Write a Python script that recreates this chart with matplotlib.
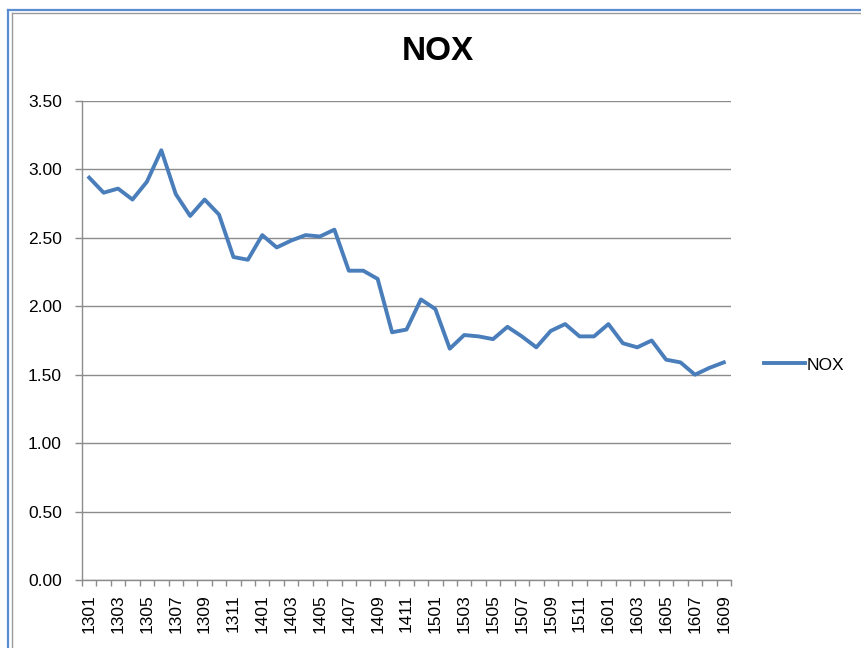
import matplotlib
matplotlib.use("Agg")
import matplotlib.pyplot as plt
from matplotlib.lines import Line2D
from matplotlib.ticker import FixedLocator, NullFormatter

months = [f"{y}{m:02d}" for y in (13, 14, 15) for m in range(1, 13)] + [f"16{m:02d}" for m in range(1, 10)]

nox = [
    2.94, 2.83, 2.86, 2.78, 2.91, 3.14, 2.82, 2.66, 2.78, 2.67, 2.36, 2.34,
    2.52, 2.43, 2.48, 2.52, 2.51, 2.56, 2.26, 2.26, 2.20, 1.81, 1.83, 2.05,
    1.98, 1.69, 1.79, 1.78, 1.76, 1.85, 1.78, 1.70, 1.82, 1.87, 1.78, 1.78,
    1.87, 1.73, 1.70, 1.75, 1.61, 1.59, 1.50, 1.55, 1.59,
]
y_ticks = [0.0, 0.5, 1.0, 1.5, 2.0, 2.5, 3.0, 3.5]

W, H = 862, 648
plt.rcParams["font.family"] = ["Liberation Sans", "DejaVu Sans"]

fig = plt.figure(figsize=(W / 100, H / 100), dpi=100)
ax = fig.add_axes([82 / W, 1 - 580 / H, (731 - 82) / W, (580 - 101) / H])

x = list(range(len(months)))
ax.plot(x, nox, color="#4a7ebb", linewidth=2.8, solid_joinstyle="round", label="NOX", zorder=3)

ax.set_xlim(-0.5, len(months) - 0.5)
ax.set_ylim(0, 3.5)
ax.set_yticks(y_ticks)
ax.set_yticklabels([f"{v:.2f}" for v in y_ticks], fontsize=12.5)
ax.grid(axis="y", color="#8c8c8c", linewidth=1.0)
ax.set_axisbelow(True)

ax.set_xticks(x[::2])
ax.set_xticklabels(months[::2], rotation=90, fontsize=12.5)
ax.xaxis.set_minor_locator(FixedLocator([i - 0.5 for i in range(len(months) + 1)]))
ax.xaxis.set_minor_formatter(NullFormatter())
ax.tick_params(axis="x", which="major", length=0, pad=10.5)
ax.tick_params(axis="x", which="minor", length=4.3, color="#8c8c8c", width=1.0)
ax.tick_params(axis="y", length=5, color="#8c8c8c", width=1.0, pad=9.5)

for side in ("top", "right"):
    ax.spines[side].set_visible(False)
for side in ("left", "bottom"):
    ax.spines[side].set_color("#8c8c8c")
    ax.spines[side].set_linewidth(1.0)

fig.text(438 / W, 1 - 52 / H, "NOX", ha="center", va="center", fontsize=24, fontweight="bold")

ax.legend(loc="center left", bbox_to_anchor=(755 / W, 1 - 365 / H), bbox_transform=fig.transFigure,
          frameon=False, fontsize=12.5, handlelength=2.4, handletextpad=0.1, borderpad=0)

# chart frame
fig.add_artist(Line2D([8.5 / W, 8.5 / W], [0, 1 - 9.5 / H], color="#5b8bd0", linewidth=1.6, transform=fig.transFigure))
fig.add_artist(Line2D([8.5 / W, 1], [1 - 9.5 / H, 1 - 9.5 / H], color="#5b8bd0", linewidth=1.6, transform=fig.transFigure))
fig.add_artist(Line2D([12.5 / W, 12.5 / W], [0, 1 - 13 / H], color="#9a9a9a", linewidth=1.0, transform=fig.transFigure))
fig.add_artist(Line2D([12.5 / W, 1], [1 - 13 / H, 1 - 13 / H], color="#9a9a9a", linewidth=1.0, transform=fig.transFigure))

fig.savefig("out.png", dpi=100)
